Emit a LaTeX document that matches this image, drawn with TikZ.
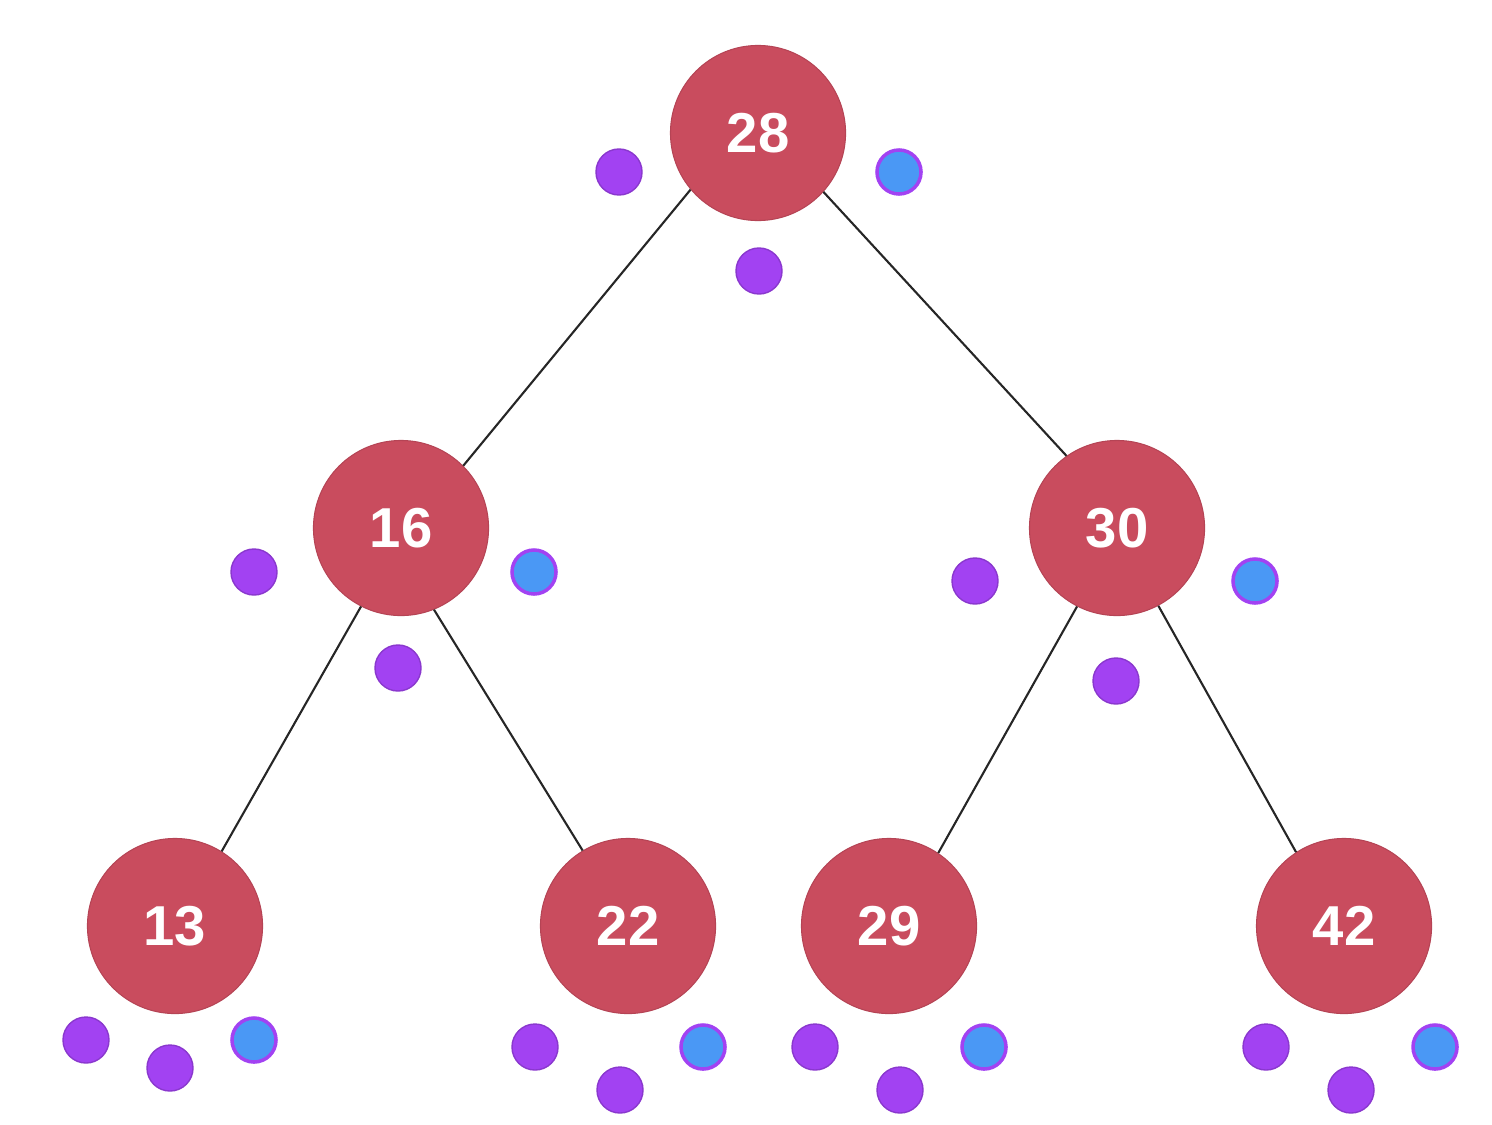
\documentclass[tikz,border=0pt]{standalone}
\usepackage{fontspec}
\setmainfont{Liberation Sans}
\definecolor{nodered}{HTML}{C94C5E}
\definecolor{dotpurple}{HTML}{A242F2}
\definecolor{dotblue}{HTML}{4A98F5}
\begin{document}
\begin{tikzpicture}[x=0.01cm,y=-0.01cm,
  tn/.style={circle,fill=nodered,draw=nodered!90!black,line width=0.3pt,minimum size=1.75cm,inner sep=0pt,text=white,font=\fontsize{16}{16}\selectfont\bfseries},
  pd/.style={circle,fill=dotpurple,draw=dotpurple!85!black,line width=0.4pt,minimum size=0.46cm,inner sep=0pt},
  bd/.style={circle,fill=dotblue,draw=dotpurple,line width=1pt,minimum size=0.44cm,inner sep=0pt},
  edge/.style={draw=black!85,line width=0.6pt}]
\useasboundingbox (0,0) rectangle (1492,1124);
\node[tn] (n28) at (758,133) {28};
\node[tn] (n16) at (401,528) {16};
\node[tn] (n30) at (1117,528) {30};
\node[tn] (n13) at (175,926) {13};
\node[tn] (n22) at (628,926) {22};
\node[tn] (n29) at (889,926) {29};
\node[tn] (n42) at (1344,926) {42};
\draw[edge] (n28.220) -- (n16.45);
\draw[edge] (n28.318) -- (n30.125);
\draw[edge] (n16.243) -- (n13.58);
\draw[edge] (n16.292) -- (n22.121);
\draw[edge] (n30.243) -- (n29.56);
\draw[edge] (n30.298) -- (n42.123);
% dots
\node[pd] (a1) at (619,172) {};
\node[bd] (a2) at (899,172) {};
\node[pd] (a3) at (759,271) {};
\node[pd] (b1) at (254,572) {};
\node[bd] (b2) at (534,572) {};
\node[pd] (b3) at (398,668) {};
\node[pd] (c1) at (975,581) {};
\node[bd] (c2) at (1255,581) {};
\node[pd] (c3) at (1116,681) {};
\node[pd] (d1) at (86,1040) {};
\node[pd] (d2) at (170,1068) {};
\node[bd] (d3) at (254,1040) {};
\node[pd] (e1) at (535,1047) {};
\node[pd] (e2) at (620,1090) {};
\node[bd] (e3) at (703,1047) {};
\node[pd] (f1) at (815,1047) {};
\node[pd] (f2) at (900,1090) {};
\node[bd] (f3) at (984,1047) {};
\node[pd] (g1) at (1266,1047) {};
\node[pd] (g2) at (1351,1090) {};
\node[bd] (g3) at (1435,1047) {};
\end{tikzpicture}
\end{document}
